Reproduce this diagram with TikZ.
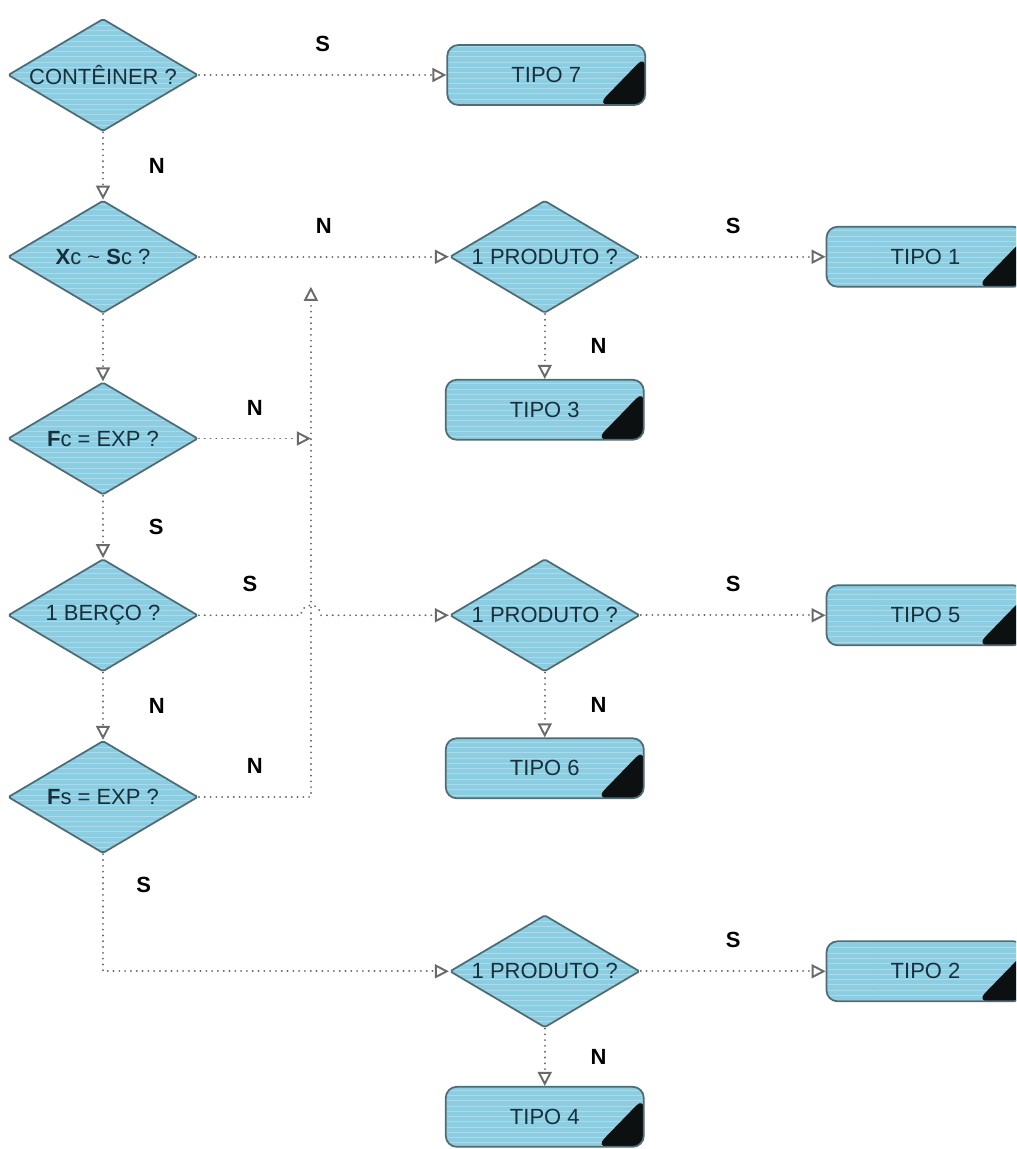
\documentclass[tikz,border=0pt]{standalone}
\usepackage{fontspec}
\setmainfont{Liberation Sans}
\usepackage{tikz}
\usetikzlibrary{arrows.meta,positioning,calc,shapes.geometric,patterns}
\definecolor{diafill}{HTML}{8CCDE2}
\definecolor{diaedge}{HTML}{4F6B74}
\definecolor{stripe}{HTML}{A8DBEB}
\definecolor{txt}{HTML}{17303B}
\definecolor{conn}{HTML}{6A6A6A}

\begin{document}
\begin{tikzpicture}[
  decision/.style={diamond, aspect=1.7, draw=diaedge, line width=1pt, rounded corners=1pt, preaction={fill=diafill}, pattern=horizontal lines, pattern color=stripe, minimum width=3.8cm, minimum height=2.25cm, inner xsep=-1cm, inner ysep=0pt, font=\fontsize{12.5}{14}\selectfont, text=txt},
  outcome/.style={rectangle, rounded corners=0.22cm, draw=diaedge, line width=1pt, preaction={fill=diafill}, pattern=horizontal lines, pattern color=stripe, minimum width=3.96cm, minimum height=1.2cm, font=\fontsize{12.5}{14}\selectfont, text=txt,
    path picture={\fill[black!85!diaedge] (path picture bounding box.south east) -- ++(-0.95cm,0) -- ([yshift=-0.22cm]path picture bounding box.north east) -- cycle;}},
  arr/.style={-{Triangle[open, length=8pt, width=8pt]}, conn, line width=1.1pt, line cap=round, dash pattern=on 0.1pt off 3.2pt},
  lbl/.style={font=\bfseries\fontsize{12.5}{14}\selectfont, inner sep=0pt, text=black}
]
  \useasboundingbox (-2.06,1.5) rectangle (18.26,-21.48);
  \clip (-2.06,1.5) rectangle (18.26,-21.48);

  \node[decision] (d1) {CONTÊINER ?};
  \node[decision, below=1.35cm of d1] (d2) {\textbf{X}c \textasciitilde{} \textbf{S}c ?};
  \node[decision, below=1.35cm of d2] (d3) {\textbf{F}c = EXP ?};
  \node[decision, below=1.25cm of d3] (d4) {1 BERÇO ?};
  \node[decision, below=1.35cm of d4] (d5) {\textbf{F}s = EXP ?};

  \node[outcome, right=4.95cm of d1] (t7) {TIPO 7};
  \node[decision, right=5cm of d2] (p1) {1 PRODUTO ?};
  \node[outcome, right=3.7cm of p1] (t1) {TIPO 1};
  \node[outcome, below=1.3cm of p1] (t3) {TIPO 3};
  \node[decision, right=5cm of d4] (p2) {1 PRODUTO ?};
  \node[outcome, right=3.7cm of p2] (t5) {TIPO 5};
  \node[outcome, below=1.3cm of p2] (t6) {TIPO 6};
  \node[decision, below=2.3cm of t6] (p3) {1 PRODUTO ?};
  \node[outcome, right=3.7cm of p3] (t2) {TIPO 2};
  \node[outcome, below=1.15cm of p3] (t4) {TIPO 4};

  \coordinate (up) at ([shift={(2.24cm,-0.6cm)}]d2.east);
  \coordinate (hop) at (d4 -| up);

  \draw[arr] (d1) -- node[lbl, above=0.45cm] {S} (t7);
  \draw[arr] (d1) -- node[lbl, right=0.9cm] {N} (d2);
  \draw[arr] (d2) -- node[lbl, above=0.45cm] {N} (p1);
  \draw[arr] (p1) -- node[lbl, above=0.45cm] {S} (t1);
  \draw[arr] (p1) -- node[lbl, right=0.9cm] {N} (t3);
  \draw[arr] (d2) -- (d3);
  \draw[arr] (d3) -- node[lbl, right=0.9cm] {S} (d4);
  \draw[arr] (d3) -- node[lbl, above=0.45cm] {N} (d3 -| up);
  \draw[arr] (d4) -- node[lbl, above=0.45cm] {S} ([xshift=-0.2cm]hop) arc[start angle=180, end angle=0, radius=0.2cm] -- (p2);
  \draw[arr] (d4) -- node[lbl, right=0.9cm] {N} (d5);
  \draw[arr] (d5) -- node[lbl, above=0.45cm] {N} (d5 -| up) -- (up);
  \draw[arr] (p2) -- node[lbl, above=0.45cm] {S} (t5);
  \draw[arr] (p2) -- node[lbl, right=0.9cm] {N} (t6);
  \draw[arr] (d5) |- node[lbl, pos=0.13, right=0.65cm] {S} (p3);
  \draw[arr] (p3) -- node[lbl, above=0.45cm] {S} (t2);
  \draw[arr] (p3) -- node[lbl, right=0.9cm] {N} (t4);
\end{tikzpicture}
\end{document}
